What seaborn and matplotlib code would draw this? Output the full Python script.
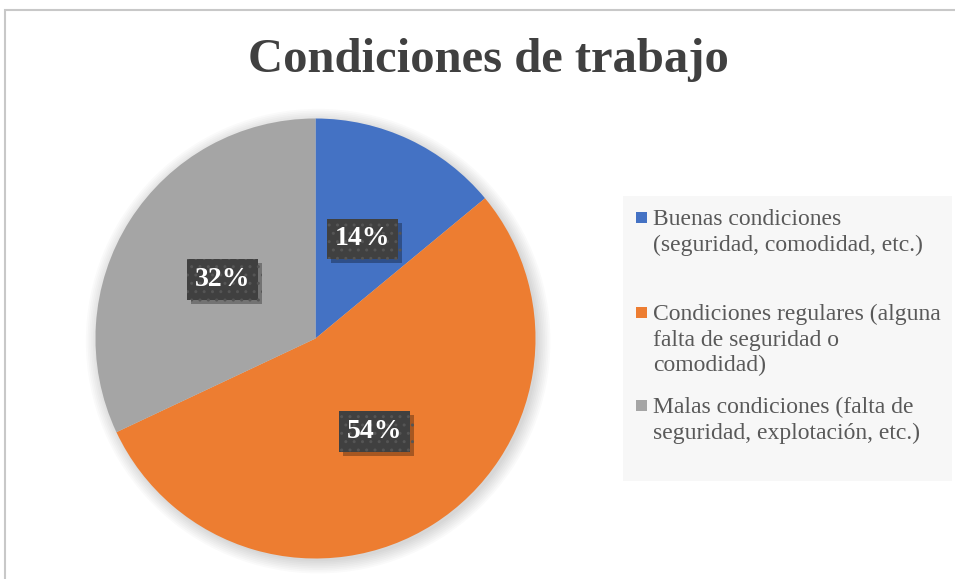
import seaborn as sns, matplotlib.pyplot as plt
from matplotlib.patches import Rectangle, Circle
import matplotlib.patheffects as pe

# datos
categorias = ["Buenas condiciones\n(seguridad, comodidad, etc.)",
              "Condiciones regulares (alguna\nfalta de seguridad o\ncomodidad)",
              "Malas condiciones (falta de\nseguridad, explotación, etc.)"]
porcentajes = [14, 54, 32]
colores = ["#4472C4", "#ED7D31", "#A5A5A5"]
titulo = "Condiciones de trabajo"

sns.set_style("white")
plt.rcParams['font.family'] = ['Liberation Serif', 'DejaVu Serif']
plt.rcParams['hatch.linewidth'] = 1.0

W, H = 955, 579
fig = plt.figure(figsize=(W / 100, H / 100), dpi=100)

# marco del grafico
fig.patches.append(Rectangle((5 / W, -0.1), 1.1, (H - 10) / H + 0.1, transform=fig.transFigure,
                             facecolor="none", edgecolor="#c8c8c8", linewidth=1.5))

cx, cy, r = 315.5, 338.5, 220
ax = fig.add_axes([(cx - r) / W, (H - cy - r) / H, 2 * r / W, 2 * r / H])
# sombra suave del pastel
for k in range(8):
    ax.add_patch(Circle((0.012, -0.012), 1.0 + 0.008 * k, facecolor="black", alpha=0.018,
                        edgecolor="none", zorder=0, clip_on=False))
wedges, textos, autotextos = ax.pie(porcentajes, colors=colores, startangle=90, counterclock=False,
                                    autopct="%1.0f%%", pctdistance=0.5,
                                    wedgeprops=dict(linewidth=0, zorder=2))
ax.set_xlim(-1, 1)
ax.set_ylim(-1, 1)
ax.set_aspect("equal")
ax.axis("off")

for t in autotextos:
    t.set_color("white")
    t.set_fontsize(20)
    t.set_fontweight("bold")
    t.set_zorder(5)
    t.set_bbox(dict(boxstyle="square,pad=0.28", facecolor="#404040", edgecolor="#555555",
                    hatch="..", linewidth=0))
    t.get_bbox_patch().set_path_effects([pe.SimplePatchShadow(offset=(3, -3), shadow_rgbFace="black",
                                                              alpha=0.3), pe.Normal()])

fig.text(488 / W, 1 - 60 / H, titulo, ha="center", va="center", fontsize=35,
         fontweight="bold", color="#404040")

# leyenda
fig.patches.append(Rectangle((623 / W, 1 - 481 / H), (952 - 623) / W, (481 - 196) / H,
                             transform=fig.transFigure, facecolor="#f7f7f7", edgecolor="none"))
tops = [209, 304, 397]
for lab, col, y in zip(categorias, colores, tops):
    fig.patches.append(Rectangle((636 / W, 1 - (y + 14) / H), 11 / W, 11 / H,
                                 transform=fig.transFigure, facecolor=col, edgecolor="none"))
    fig.text(653 / W, 1 - y / H, lab, ha="left", va="top", fontsize=17,
             color="#595959", linespacing=1.27)

fig.savefig("out.png", dpi=100)
